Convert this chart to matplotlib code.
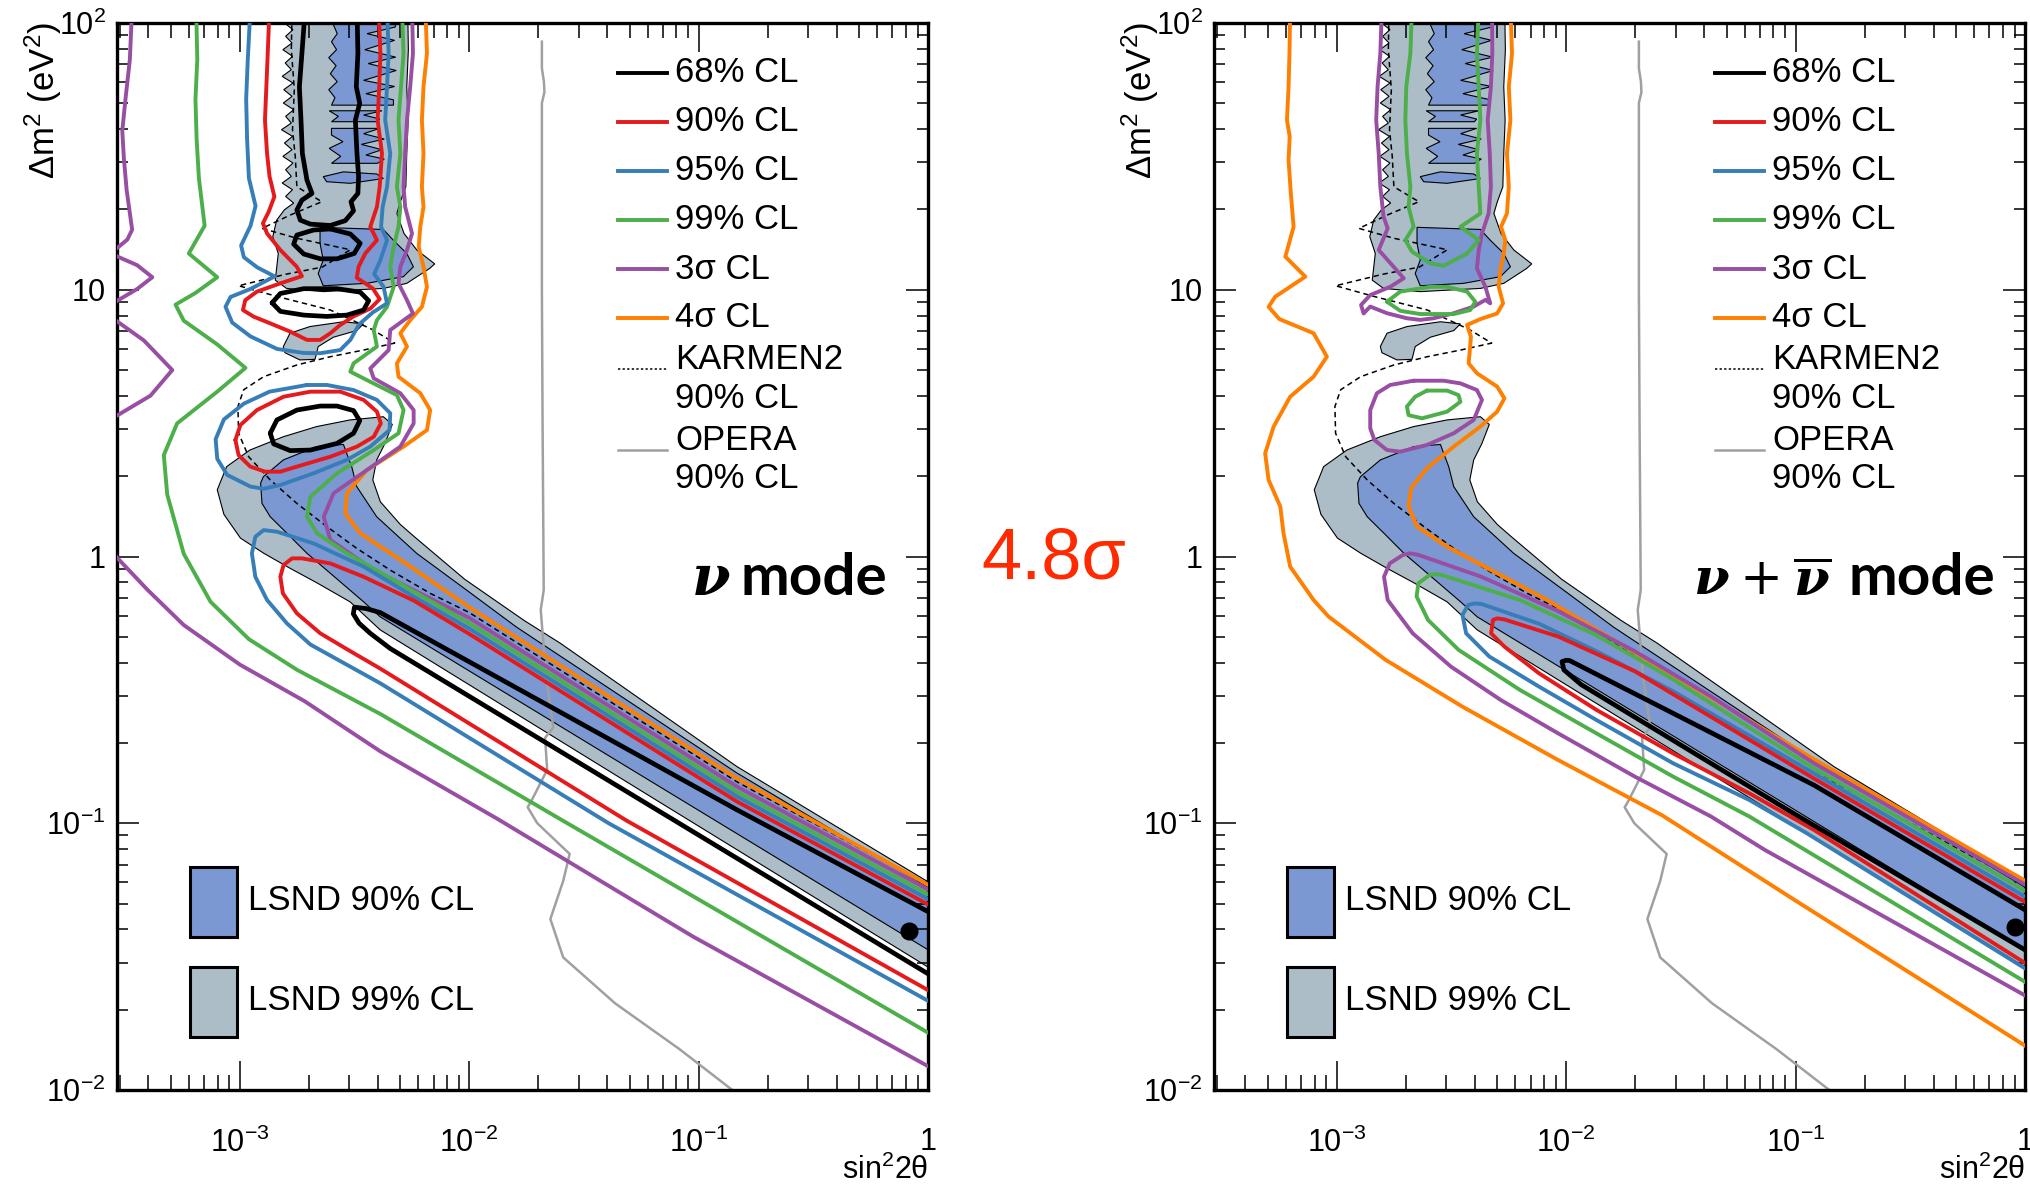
import numpy as np
import matplotlib
matplotlib.use("Agg")
import matplotlib.pyplot as plt
from matplotlib.patches import Rectangle
from matplotlib.ticker import FixedLocator, FixedFormatter, LogLocator, NullFormatter

plt.rcParams['font.family'] = ['Liberation Sans', 'DejaVu Sans']
plt.rcParams['mathtext.fontset'] = 'custom'
plt.rcParams['mathtext.rm'] = 'DejaVu Serif'
plt.rcParams['mathtext.it'] = 'DejaVu Serif:italic:bold'
plt.rcParams['mathtext.bf'] = 'DejaVu Serif:bold'

# ---------------- DATA : (log10 sin^2 2theta , log10 dm^2) ----------------
# LSND 99% CL (grey) -- shared by both panels
lsnd99_column = [(-2.794, 2.06), (-2.268, 2.06), (-2.265, 1.90), (-2.272, 1.76), (-2.266, 1.636),
    (-2.272, 1.511), (-2.276, 1.386), (-2.300, 1.330), (-2.315, 1.286), (-2.284, 1.211),
    (-2.228, 1.149), (-2.150, 1.097), (-2.172, 1.080), (-2.272, 1.024), (-2.374, 1.005),
    (-2.636, 0.993), (-2.796, 1.005), (-2.845, 1.036), (-2.832, 1.136), (-2.856, 1.199),
    (-2.839, 1.261), (-2.805, 1.300), (-2.765, 1.325), (-2.800, 1.35), (-2.770, 1.375),
    (-2.815, 1.40), (-2.775, 1.425), (-2.800, 1.45), (-2.768, 1.475), (-2.812, 1.50),
    (-2.772, 1.525), (-2.805, 1.55), (-2.770, 1.575), (-2.818, 1.60), (-2.775, 1.625),
    (-2.800, 1.65), (-2.765, 1.675), (-2.810, 1.70), (-2.772, 1.725), (-2.808, 1.75),
    (-2.768, 1.775), (-2.815, 1.80), (-2.775, 1.825), (-2.802, 1.85), (-2.770, 1.875),
    (-2.812, 1.90), (-2.772, 1.925), (-2.800, 1.95), (-2.768, 1.975), (-2.805, 2.00)]
lsnd99_tail = [(-2.810, 0.787), (-2.781, 0.837), (-2.694, 0.862), (-2.548, 0.880), (-2.461, 0.872),
    (-2.490, 0.847), (-2.592, 0.822), (-2.658, 0.787), (-2.672, 0.739), (-2.738, 0.737),
    (-2.803, 0.764)]
lsnd99_band = [(-3.098, 0.250), (-3.057, 0.337), (-2.956, 0.399), (-2.810, 0.449), (-2.665, 0.487),
    (-2.519, 0.512), (-2.374, 0.524), (-2.335, 0.495), (-2.367, 0.424), (-2.403, 0.362),
    (-2.420, 0.287), (-2.387, 0.205), (-2.300, 0.120), (-2.240, 0.075), (-2.020, -0.085),
    (-1.760, -0.240), (-1.603, -0.325), (-0.832, -0.788), (0.03, -1.235),
    (0.03, -1.555), (-1.200, -0.905), (-2.388, -0.275), (-2.519, -0.170), (-2.665, -0.098),
    (-2.779, -0.045), (-2.895, 0.012), (-2.997, 0.069), (-3.069, 0.158)]

# LSND 90% CL (blue) -- shared
lsnd90_col_a = [(-2.600, 2.06), (-2.320, 2.06), (-2.322, 1.985), (-2.445, 1.960), (-2.325, 1.935),
    (-2.455, 1.900), (-2.320, 1.872), (-2.440, 1.848), (-2.318, 1.822), (-2.460, 1.785),
    (-2.325, 1.762), (-2.450, 1.735), (-2.330, 1.712), (-2.330, 1.692), (-2.600, 1.692),
    (-2.585, 1.720), (-2.612, 1.750), (-2.575, 1.780), (-2.605, 1.810), (-2.580, 1.840),
    (-2.612, 1.870), (-2.578, 1.900), (-2.600, 1.930), (-2.575, 1.960), (-2.595, 2.000)]
lsnd90_col_b = [(-2.610, 1.671), (-2.380, 1.671), (-2.460, 1.655), (-2.390, 1.640), (-2.400, 1.630),
    (-2.600, 1.630), (-2.570, 1.650)]
lsnd90_col_c = [(-2.600, 1.605), (-2.390, 1.605), (-2.460, 1.585), (-2.370, 1.565), (-2.470, 1.545),
    (-2.380, 1.525), (-2.450, 1.505), (-2.370, 1.490), (-2.400, 1.474), (-2.600, 1.474),
    (-2.560, 1.500), (-2.610, 1.530), (-2.550, 1.555), (-2.600, 1.580)]
lsnd90_lens = [(-2.636, 1.424), (-2.548, 1.442), (-2.403, 1.434), (-2.374, 1.417), (-2.519, 1.399),
    (-2.621, 1.405)]
lsnd90_low = [(-2.650, 1.234), (-2.374, 1.226), (-2.331, 1.186), (-2.272, 1.136), (-2.243, 1.086),
    (-2.287, 1.049), (-2.447, 1.024), (-2.636, 1.015), (-2.658, 1.061), (-2.636, 1.111),
    (-2.650, 1.174)]
lsnd90_band = [(-2.909, 0.275), (-2.897, 0.299), (-2.810, 0.362), (-2.665, 0.412), (-2.548, 0.420),
    (-2.534, 0.387), (-2.512, 0.337), (-2.490, 0.262), (-2.403, 0.149), (-2.229, 0.012),
    (-2.011, -0.126), (-1.793, -0.265), (-0.832, -0.812), (0.03, -1.255),
    (0.03, -1.490), (-2.388, -0.226), (-2.460, -0.170), (-2.605, -0.063), (-2.707, 0.012),
    (-2.794, 0.087), (-2.867, 0.149), (-2.903, 0.199)]

# KARMEN2 90% CL (dashed) -- shared
karmen2 = [(-2.772, 2.06), (-2.775, 1.90), (-2.762, 1.75), (-2.770, 1.60), (-2.758, 1.50),
    (-2.751, 1.386), (-2.642, 1.330), (-2.780, 1.280), (-2.903, 1.230), (-2.751, 1.193),
    (-2.518, 1.150), (-2.640, 1.085), (-2.800, 1.058), (-3.005, 1.015), (-2.838, 0.975),
    (-2.605, 0.924), (-2.420, 0.850), (-2.325, 0.800), (-2.460, 0.774), (-2.605, 0.749),
    (-2.751, 0.718), (-2.896, 0.674), (-2.983, 0.625), (-3.008, 0.562), (-3.005, 0.462),
    (-2.961, 0.374), (-2.867, 0.287), (-2.751, 0.199), (-2.620, 0.112), (-2.489, 0.030),
    (-2.344, -0.051), (-2.170, -0.138), (-2.000, -0.210), (-0.832, -0.845), (0.03, -1.245)]

# OPERA 90% CL (grey line) -- shared
opera = [(-1.683, 1.93), (-1.683, 1.83), (-1.674, 1.78), (-1.672, 1.74), (-1.683, 1.70),
    (-1.683, 1.00), (-1.680, 0.50), (-1.675, -0.126), (-1.688, -0.200), (-1.665, -0.450),
    (-1.633, -0.640), (-1.669, -0.680), (-1.660, -0.800), (-1.731, -0.920), (-1.745, -0.940),
    (-1.703, -1.000), (-1.562, -1.115), (-1.590, -1.216), (-1.646, -1.359), (-1.590, -1.503),
    (-1.364, -1.675), (-1.083, -1.847), (-0.829, -2.016), (-0.810, -2.040)]

# ---------- MiniBooNE neutrino mode ----------
nu_best = (0.826, 0.0395)
nu_4s = [[(-2.191, 2.06), (-2.184, 1.886), (-2.199, 1.761), (-2.206, 1.636), (-2.199, 1.511),
    (-2.206, 1.386), (-2.199, 1.311), (-2.213, 1.236), (-2.220, 1.161), (-2.199, 1.086),
    (-2.184, 1.011), (-2.206, 0.936), (-2.257, 0.886), (-2.300, 0.837), (-2.271, 0.787),
    (-2.315, 0.724), (-2.308, 0.674), (-2.213, 0.612), (-2.170, 0.549), (-2.184, 0.474),
    (-2.286, 0.412), (-2.446, 0.324), (-2.533, 0.237), (-2.540, 0.162), (-2.475, 0.087),
    (-2.286, -0.020), (-2.000, -0.190), (-0.832, -0.832), (0.03, -1.245)]]
nu_3s = [[(-3.469, 2.06), (-3.479, 1.863), (-3.498, 1.715), (-3.512, 1.596), (-3.505, 1.492),
    (-3.493, 1.374), (-3.469, 1.225), (-3.490, 1.188), (-3.563, 1.136), (-3.447, 1.092),
    (-3.381, 1.047), (-3.447, 1.003), (-3.563, 0.944), (-3.563, 0.899), (-3.418, 0.810),
    (-3.294, 0.699), (-3.389, 0.603), (-3.563, 0.514), (-3.600, 0.250), (-3.563, 0.025),
    (-3.534, -0.005), (-3.403, -0.124), (-3.244, -0.257), (-3.000, -0.405), (-2.718, -0.542),
    (-2.388, -0.730), (-1.874, -0.985), (-1.026, -1.424), (0.03, -1.925)],
   [(-2.249, 2.06), (-2.245, 1.886), (-2.257, 1.761), (-2.271, 1.636), (-2.279, 1.511),
    (-2.286, 1.386), (-2.279, 1.311), (-2.249, 1.211), (-2.271, 1.149), (-2.300, 1.086),
    (-2.308, 1.024), (-2.271, 0.961), (-2.245, 0.911), (-2.344, 0.849), (-2.351, 0.774),
    (-2.431, 0.705), (-2.416, 0.668), (-2.300, 0.612), (-2.242, 0.549), (-2.242, 0.499),
    (-2.300, 0.412), (-2.446, 0.324), (-2.591, 0.237), (-2.634, 0.149), (-2.605, 0.062),
    (-2.416, -0.051), (-2.000, -0.230), (-0.832, -0.863), (0.03, -1.262)]]
nu_99 = [[(-3.190, 2.06), (-3.185, 1.863), (-3.193, 1.715), (-3.188, 1.566), (-3.178, 1.418),
    (-3.153, 1.240), (-3.222, 1.136), (-3.098, 1.047), (-3.193, 0.988), (-3.280, 0.944),
    (-3.244, 0.884), (-3.098, 0.795), (-2.975, 0.707), (-3.098, 0.618), (-3.273, 0.499),
    (-3.331, 0.380), (-3.316, 0.232), (-3.244, 0.010), (-3.127, -0.170), (-2.960, -0.310),
    (-2.750, -0.425), (-2.388, -0.590), (-1.602, -0.985), (0.03, -1.800)],
   [(-2.293, 2.06), (-2.286, 1.886), (-2.297, 1.761), (-2.308, 1.636), (-2.300, 1.511),
    (-2.315, 1.386), (-2.300, 1.311), (-2.308, 1.236), (-2.329, 1.161), (-2.344, 1.086),
    (-2.329, 1.011), (-2.358, 0.936), (-2.402, 0.886), (-2.416, 0.849), (-2.402, 0.787),
    (-2.504, 0.724), (-2.518, 0.693), (-2.431, 0.655), (-2.315, 0.605), (-2.286, 0.549),
    (-2.308, 0.462), (-2.416, 0.399), (-2.576, 0.312), (-2.692, 0.224), (-2.707, 0.149),
    (-2.663, 0.087), (-2.533, 0.012), (-2.315, -0.095), (-2.000, -0.250), (-0.832, -0.882),
    (0.03, -1.280)]]
nu_95 = [[(-2.953, 2.06), (-2.965, 1.863), (-2.972, 1.715), (-2.968, 1.566), (-2.960, 1.418),
    (-2.931, 1.314), (-2.953, 1.240), (-2.994, 1.166), (-2.982, 1.122), (-2.924, 1.084),
    (-2.848, 1.050), (-2.953, 1.003), (-3.040, 0.973), (-3.062, 0.936), (-3.033, 0.877),
    (-2.953, 0.825), (-2.837, 0.778), (-2.721, 0.763), (-2.649, 0.762), (-2.562, 0.774),
    (-2.518, 0.812), (-2.480, 0.870), (-2.420, 0.915), (-2.358, 0.949), (-2.373, 1.011),
    (-2.414, 1.059), (-2.387, 1.111), (-2.358, 1.186), (-2.384, 1.236), (-2.377, 1.311),
    (-2.358, 1.386), (-2.344, 1.511), (-2.366, 1.636), (-2.358, 1.761), (-2.351, 1.886),
    (-2.358, 2.06)],
   [(-2.707, 0.643), (-2.620, 0.643), (-2.504, 0.624), (-2.402, 0.587), (-2.344, 0.537),
    (-2.347, 0.474), (-2.431, 0.412), (-2.533, 0.362), (-2.678, 0.312), (-2.823, 0.268),
    (-2.896, 0.254), (-2.953, 0.262), (-3.055, 0.306), (-3.098, 0.366), (-3.105, 0.440),
    (-3.069, 0.514), (-2.982, 0.573), (-2.870, 0.618), (-2.707, 0.643)],
   [(0.03, -1.298), (-0.832, -0.900), (-2.000, -0.270), (-2.242, -0.150), (-2.460, -0.038),
    (-2.678, 0.049), (-2.838, 0.093), (-2.896, 0.099), (-2.932, 0.074), (-2.947, 0.012),
    (-2.932, -0.076), (-2.881, -0.163), (-2.794, -0.251), (-2.692, -0.330), (-2.388, -0.475),
    (-1.392, -1.000), (0.03, -1.680)]]
nu_90 = [[(-2.870, 2.06), (-2.878, 1.886), (-2.884, 1.761), (-2.890, 1.636), (-2.881, 1.511),
    (-2.870, 1.424), (-2.849, 1.349), (-2.874, 1.292), (-2.899, 1.249), (-2.881, 1.211),
    (-2.823, 1.149), (-2.751, 1.086), (-2.729, 1.051), (-2.823, 1.024), (-2.925, 0.993),
    (-2.976, 0.961), (-2.986, 0.924), (-2.939, 0.899), (-2.867, 0.874), (-2.780, 0.843),
    (-2.707, 0.812), (-2.649, 0.812), (-2.605, 0.837), (-2.562, 0.868), (-2.504, 0.900),
    (-2.430, 0.930), (-2.390, 0.965), (-2.420, 1.005), (-2.490, 1.045), (-2.482, 1.086),
    (-2.453, 1.136), (-2.402, 1.186), (-2.431, 1.236), (-2.402, 1.311), (-2.390, 1.386),
    (-2.380, 1.511), (-2.399, 1.636), (-2.392, 1.761), (-2.387, 1.886), (-2.395, 2.06)],
   [(-3.019, 0.437), (-2.997, 0.493), (-2.925, 0.549), (-2.809, 0.599), (-2.692, 0.618),
    (-2.562, 0.618), (-2.460, 0.587), (-2.402, 0.543), (-2.385, 0.499), (-2.416, 0.449),
    (-2.489, 0.412), (-2.605, 0.374), (-2.751, 0.337), (-2.823, 0.318), (-2.889, 0.318),
    (-2.954, 0.337), (-3.005, 0.380), (-3.019, 0.437)],
   [(0.03, -1.318), (-0.832, -0.919), (-2.000, -0.290), (-2.242, -0.165), (-2.460, -0.076),
    (-2.605, -0.026), (-2.729, -0.007), (-2.772, -0.007), (-2.809, -0.032), (-2.823, -0.076),
    (-2.812, -0.138), (-2.751, -0.213), (-2.649, -0.288), (-2.518, -0.355), (-2.388, -0.420),
    (-1.314, -0.990), (0.03, -1.640)]]
nu_68 = [[(-2.714, 2.06), (-2.729, 1.886), (-2.740, 1.761), (-2.733, 1.636), (-2.727, 1.511),
    (-2.707, 1.411), (-2.685, 1.361), (-2.729, 1.336), (-2.751, 1.299), (-2.736, 1.261),
    (-2.692, 1.246), (-2.605, 1.241), (-2.540, 1.259), (-2.504, 1.296), (-2.515, 1.330),
    (-2.485, 1.361), (-2.482, 1.424), (-2.489, 1.511), (-2.496, 1.636), (-2.477, 1.699),
    (-2.492, 1.761), (-2.485, 1.886), (-2.489, 2.06)],
   [(-2.605, 1.228), (-2.518, 1.209), (-2.475, 1.174), (-2.501, 1.136), (-2.576, 1.116),
    (-2.649, 1.116), (-2.721, 1.134), (-2.765, 1.171), (-2.751, 1.205), (-2.678, 1.224),
    (-2.605, 1.228)],
   [(-2.859, 0.951), (-2.823, 0.986), (-2.721, 1.004), (-2.576, 1.004), (-2.475, 0.991),
    (-2.438, 0.959), (-2.460, 0.924), (-2.533, 0.905), (-2.620, 0.900), (-2.721, 0.905),
    (-2.823, 0.919), (-2.859, 0.951)],
   [(-2.867, 0.462), (-2.838, 0.512), (-2.751, 0.549), (-2.649, 0.564), (-2.576, 0.564),
    (-2.504, 0.547), (-2.477, 0.509), (-2.504, 0.462), (-2.576, 0.424), (-2.692, 0.399),
    (-2.780, 0.397), (-2.852, 0.422), (-2.867, 0.462)],
   [(0.03, -1.345), (-0.832, -0.950), (-2.388, -0.210), (-2.450, -0.195),
    (-2.500, -0.190), (-2.505, -0.215), (-2.480, -0.250), (-2.431, -0.288), (-2.344, -0.345),
    (0.03, -1.580)]]

# ---------- MiniBooNE neutrino + antineutrino mode ----------
nunubar_best = (0.90, 0.041)
nb_4s = [[(-3.203, 2.06), (-3.206, 1.886), (-3.210, 1.761), (-3.217, 1.636), (-3.205, 1.574),
    (-3.210, 1.486), (-3.200, 1.361), (-3.188, 1.236), (-3.224, 1.124), (-3.137, 1.049),
    (-3.268, 0.974), (-3.297, 0.936), (-3.250, 0.890), (-3.101, 0.837), (-3.043, 0.749),
    (-3.101, 0.674), (-3.203, 0.599), (-3.275, 0.487), (-3.312, 0.387), (-3.297, 0.287),
    (-3.246, 0.187), (-3.232, 0.087), (-3.203, -0.038), (-3.101, -0.163), (-3.036, -0.225),
    (-2.786, -0.388), (-2.452, -0.563), (-2.035, -0.763), (-1.582, -0.970), (-1.000, -1.290),
    (0.03, -1.850)],
   [(-2.243, 2.06), (-2.236, 1.886), (-2.250, 1.761), (-2.243, 1.636), (-2.258, 1.511),
    (-2.250, 1.386), (-2.258, 1.286), (-2.284, 1.236), (-2.265, 1.186), (-2.272, 1.136),
    (-2.287, 1.074), (-2.294, 1.011), (-2.275, 0.949), (-2.301, 0.911), (-2.374, 0.890),
    (-2.432, 0.868), (-2.415, 0.824), (-2.425, 0.724), (-2.389, 0.687), (-2.301, 0.637),
    (-2.269, 0.593), (-2.301, 0.543), (-2.374, 0.487), (-2.490, 0.412), (-2.607, 0.331),
    (-2.676, 0.256), (-2.687, 0.187), (-2.650, 0.112), (-2.519, 0.037), (-2.301, -0.063),
    (-2.083, -0.163), (-1.793, -0.313), (-1.367, -0.530), (-0.920, -0.760), (0.03, -1.230)]]
nb_3s = [[(-2.803, 2.06), (-2.810, 1.886), (-2.822, 1.761), (-2.828, 1.636), (-2.817, 1.511),
    (-2.810, 1.386), (-2.796, 1.274), (-2.778, 1.230), (-2.817, 1.149), (-2.752, 1.086),
    (-2.708, 1.043), (-2.767, 1.011), (-2.854, 0.980), (-2.894, 0.943), (-2.883, 0.911),
    (-2.854, 0.937), (-2.781, 0.912), (-2.694, 0.893), (-2.636, 0.887), (-2.578, 0.893),
    (-2.490, 0.912), (-2.403, 0.937), (-2.352, 0.962), (-2.331, 0.949), (-2.352, 1.011),
    (-2.389, 1.080), (-2.381, 1.149), (-2.367, 1.211), (-2.338, 1.286), (-2.328, 1.386),
    (-2.333, 1.511), (-2.342, 1.636), (-2.328, 1.761), (-2.322, 1.886), (-2.323, 2.06)],
   [(-2.665, 0.659), (-2.767, 0.643), (-2.825, 0.612), (-2.854, 0.549), (-2.854, 0.481),
    (-2.836, 0.437), (-2.781, 0.399), (-2.723, 0.393), (-2.607, 0.418), (-2.490, 0.462),
    (-2.403, 0.512), (-2.367, 0.587), (-2.389, 0.624), (-2.461, 0.649), (-2.534, 0.659),
    (-2.665, 0.659)],
   [(0.03, -1.245), (-0.920, -0.775), (-1.368, -0.525), (-1.701, -0.355), (-2.035, -0.205),
    (-2.369, -0.076), (-2.644, 0.006), (-2.680, 0.012), (-2.711, 0.006), (-2.769, -0.026),
    (-2.794, -0.076), (-2.778, -0.163), (-2.669, -0.288), (-2.502, -0.413), (-2.285, -0.538),
    (-2.035, -0.663), (-1.701, -0.825), (-1.368, -0.975), (-1.134, -1.100), (0.03, -1.660)]]
nb_99 = [[(-2.672, 2.06), (-2.679, 1.886), (-2.697, 1.761), (-2.701, 1.636), (-2.694, 1.511),
    (-2.679, 1.386), (-2.687, 1.311), (-2.665, 1.236), (-2.701, 1.186), (-2.672, 1.143),
    (-2.592, 1.099), (-2.534, 1.090), (-2.432, 1.136), (-2.381, 1.186), (-2.461, 1.236),
    (-2.374, 1.286), (-2.381, 1.386), (-2.389, 1.511), (-2.374, 1.636), (-2.381, 1.761),
    (-2.389, 1.886), (-2.381, 2.06)],
   [(-2.781, 0.955), (-2.723, 0.993), (-2.592, 1.011), (-2.519, 1.011), (-2.432, 0.993),
    (-2.396, 0.955), (-2.418, 0.924), (-2.490, 0.909), (-2.636, 0.909), (-2.723, 0.921),
    (-2.781, 0.955)],
   [(-2.607, 0.622), (-2.658, 0.599), (-2.694, 0.562), (-2.687, 0.530), (-2.628, 0.518),
    (-2.519, 0.543), (-2.461, 0.580), (-2.469, 0.605), (-2.519, 0.622), (-2.607, 0.622)],
   [(0.03, -1.268), (-0.920, -0.794), (-1.534, -0.460), (-1.868, -0.295), (-2.202, -0.163),
    (-2.544, -0.069), (-2.570, -0.066), (-2.594, -0.069), (-2.644, -0.100), (-2.652, -0.150),
    (-2.602, -0.238), (-2.469, -0.350), (-2.202, -0.500), (-1.868, -0.663), (-1.534, -0.825),
    (-1.201, -0.975), (0.03, -1.610)]]
nb_95 = [[(0.03, -1.290), (-0.920, -0.813), (-1.534, -0.505), (-1.868, -0.355), (-2.118, -0.252),
    (-2.369, -0.178), (-2.400, -0.176), (-2.427, -0.182), (-2.452, -0.219), (-2.436, -0.288),
    (-2.335, -0.375), (-2.118, -0.488), (-1.868, -0.613), (-1.534, -0.775), (-1.201, -0.913),
    (-0.950, -1.038), (0.03, -1.560)]]
nb_90 = [[(0.03, -1.310), (-0.920, -0.832), (-1.701, -0.430), (-2.035, -0.300), (-2.269, -0.236),
    (-2.300, -0.232), (-2.319, -0.238), (-2.327, -0.288), (-2.269, -0.338), (-2.118, -0.438),
    (-1.868, -0.575), (-1.534, -0.738), (-1.201, -0.888), (-0.920, -1.025), (0.03, -1.540)]]
nb_68 = [[(0.03, -1.340), (-0.920, -0.857), (-1.985, -0.390), (-2.000, -0.389),
    (-2.018, -0.394), (-2.010, -0.425), (-1.935, -0.480), (-1.034, -0.950), (0.03, -1.490)]]

legend_labels = ["68% CL", "90% CL", "95% CL", "99% CL", "3σ CL", "4σ CL"]
x_ticks = [1e-3, 1e-2, 1e-1, 1]
x_labels = [r"$\mathdefault{10^{-3}}$", r"$\mathdefault{10^{-2}}$", r"$\mathdefault{10^{-1}}$", "1"]
y_ticks = [1e-2, 1e-1, 1, 10, 100]
y_labels = [r"$\mathdefault{10^{-2}}$", r"$\mathdefault{10^{-1}}$", "1", "10", r"$\mathdefault{10^{2}}$"]

# ---------------- styles ----------------
C68, C90, C95, C99, C3S, C4S = 'black', '#e41a1c', '#377eb8', '#4daf4a', '#984ea3', '#ff7f00'
BLUE_FILL, GREY_FILL = '#7b98d2', '#acbdc8'
LW, LW68 = 2.8, 3.4


def P(pts):
    a = np.asarray(pts, dtype=float)
    return 10 ** a[:, 0], 10 ** a[:, 1]


fig = plt.figure(figsize=(20.3, 11.9), dpi=100)
W, H = 2030.0, 1190.0
ax1 = fig.add_axes([117 / W, 1 - 1090 / H, 811 / W, 1067 / H])
ax2 = fig.add_axes([1214 / W, 1 - 1090 / H, 811 / W, 1067 / H])


def setup(ax):
    ax.set_xscale('log')
    ax.set_yscale('log')
    ax.set_xlim(10 ** -3.535, 1)
    ax.set_ylim(1e-2, 1e2)
    ax.xaxis.set_major_locator(FixedLocator(x_ticks))
    ax.xaxis.set_major_formatter(FixedFormatter(x_labels))
    ax.yaxis.set_major_locator(FixedLocator(y_ticks))
    ax.yaxis.set_major_formatter(FixedFormatter(y_labels))
    ax.xaxis.set_minor_locator(LogLocator(base=10, subs=np.arange(2, 10), numticks=20))
    ax.yaxis.set_minor_locator(LogLocator(base=10, subs=np.arange(2, 10), numticks=20))
    ax.xaxis.set_minor_formatter(NullFormatter())
    ax.yaxis.set_minor_formatter(NullFormatter())
    ax.tick_params(which='both', direction='in', top=True, right=True, width=1.1, labelsize=22)
    ax.tick_params(axis='x', which='major', length=21, pad=27)
    ax.tick_params(axis='x', which='minor', length=10.5)
    ax.tick_params(axis='y', which='major', length=16, pad=8)
    ax.tick_params(axis='y', which='minor', length=8)
    for s in ax.spines.values():
        s.set_linewidth(2.4)


def draw_shared(ax):
    for poly in (lsnd99_column, lsnd99_tail, lsnd99_band):
        ax.fill(*P(poly), facecolor=GREY_FILL, edgecolor='black', lw=0.8, zorder=1)
    for poly in (lsnd90_col_a, lsnd90_col_b, lsnd90_col_c, lsnd90_lens, lsnd90_low, lsnd90_band):
        ax.fill(*P(poly), facecolor=BLUE_FILL, edgecolor='black', lw=0.8, zorder=1.5)
    ax.plot(*P(opera), color='#a0a0a0', lw=1.8, zorder=2)
    ax.plot(*P(karmen2), color='black', lw=1.1, ls=(0, (3.5, 2.5)), zorder=3)


def draw_set(ax, curves, color, lw):
    for c in curves:
        ax.plot(*P(c), color=color, lw=lw, zorder=4, solid_joinstyle='round', solid_capstyle='round')


def legend(ax):
    x0, x1, xt = 0.6178, 0.678, 0.688
    rows = [0.9534, 0.9075, 0.8613, 0.8154, 0.7694, 0.7239]
    cols = [C68, C90, C95, C99, C3S, C4S]
    fs = 25
    for y, c, lab in zip(rows, cols, legend_labels):
        ax.plot([x0, x1], [y, y], transform=ax.transAxes, color=c, lw=2.8, clip_on=False, zorder=6)
        ax.text(xt, y, lab, transform=ax.transAxes, va='center', ha='left', fontsize=fs)
    ax.plot([x0, x1], [0.6754, 0.6754], transform=ax.transAxes, color='black', lw=1.1,
            ls=(0, (1.5, 1.5)), clip_on=False)
    ax.text(xt, 0.6844, "KARMEN2", transform=ax.transAxes, va='center', fontsize=fs)
    ax.text(xt, 0.6485, "90% CL", transform=ax.transAxes, va='center', fontsize=fs)
    ax.plot([x0, x1], [0.6001, 0.6001], transform=ax.transAxes, color='#a0a0a0', lw=1.8, clip_on=False)
    ax.text(xt, 0.6091, "OPERA", transform=ax.transAxes, va='center', fontsize=fs)
    ax.text(xt, 0.5732, "90% CL", transform=ax.transAxes, va='center', fontsize=fs)
    ax.add_patch(Rectangle((0.090, 0.1434), 0.058, 0.0656, transform=ax.transAxes,
                           facecolor=BLUE_FILL, edgecolor='black', lw=2.2, zorder=6))
    ax.add_patch(Rectangle((0.090, 0.0497), 0.058, 0.0656, transform=ax.transAxes,
                           facecolor=GREY_FILL, edgecolor='black', lw=2.2, zorder=6))
    ax.text(0.1615, 0.1780, "LSND 90% CL", transform=ax.transAxes, va='center', fontsize=fs)
    ax.text(0.1615, 0.0840, "LSND 99% CL", transform=ax.transAxes, va='center', fontsize=fs)


for ax in (ax1, ax2):
    setup(ax)
    draw_shared(ax)

draw_set(ax1, nu_4s, C4S, LW)
draw_set(ax1, nu_3s, C3S, LW)
draw_set(ax1, nu_99, C99, LW)
draw_set(ax1, nu_95, C95, LW)
draw_set(ax1, nu_90, C90, LW)
draw_set(ax1, nu_68, C68, LW68)
ax1.plot([nu_best[0]], [nu_best[1]], 'o', color='black', ms=12, zorder=7)

draw_set(ax2, nb_4s, C4S, LW)
draw_set(ax2, nb_3s, C3S, LW)
draw_set(ax2, nb_99, C99, LW)
draw_set(ax2, nb_95, C95, LW)
draw_set(ax2, nb_90, C90, LW)
draw_set(ax2, nb_68, C68, LW68)
ax2.plot([nunubar_best[0]], [nunubar_best[1]], 'o', color='black', ms=12, zorder=7, clip_on=False)

for ax in (ax1, ax2):
    legend(ax)

# axis titles
for ax, xl in ((ax1, 117), (ax2, 1214)):
    fig.text((xl - 74) / W, 1 - 22 / H, r"Δm$^{\mathdefault{2}}$ (eV$^{\mathdefault{2}}$)",
             rotation=90, ha='center', va='top', fontsize=25)
    fig.text((xl + 811) / W, 0.003, r"sin$^{\mathdefault{2}}$2θ", ha='right', va='bottom', fontsize=22)

# mode labels
ax1.text(0.7078, 0.4639, r"$\nu$", transform=ax1.transAxes, fontsize=40, va='baseline', ha='left')
ax1.text(0.7694, 0.4639, "mode", transform=ax1.transAxes, fontsize=42, va='baseline', ha='left',
         family='Lato', weight='bold')
ax2.text(0.5906, 0.4639, r"$\nu + \overline{\nu}$", transform=ax2.transAxes, fontsize=37,
         va='baseline', ha='left')
ax2.text(0.782, 0.4639, "mode", transform=ax2.transAxes, fontsize=42, va='baseline', ha='left',
         family='Lato', weight='bold')

fig.text(1054 / W, 1 - 578 / H, "4.8σ", color='#ff2a00', fontsize=52, ha='center', va='baseline')

fig.savefig("out.png", dpi=100)
